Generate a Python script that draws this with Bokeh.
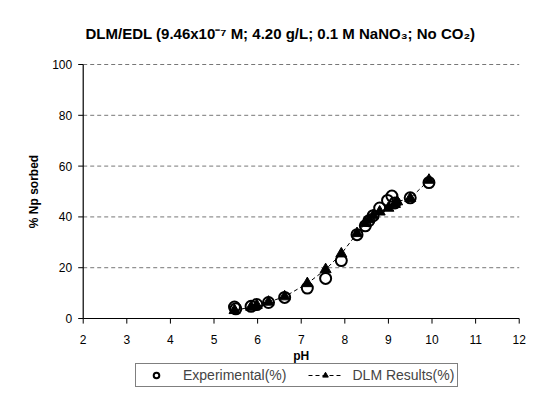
import math
from bokeh.plotting import figure
from bokeh.models import Legend, LegendItem, Range1d
from bokeh.embed import file_html
from bokeh.resources import INLINE

# Experimental (%)
exp_ph = [5.47, 5.50, 5.85, 5.98, 6.25, 6.62, 7.14, 7.56, 7.92, 8.28, 8.47, 8.55, 8.65, 8.80, 8.98, 9.08, 9.15, 9.50, 9.93]
exp_pct = [4.5, 3.8, 4.8, 5.5, 6.3, 8.3, 12.0, 15.8, 22.8, 33.0, 36.5, 38.5, 40.5, 43.5, 46.5, 48.2, 45.5, 47.5, 53.5]

# DLM Results (%)
dlm_ph = [5.47, 5.85, 5.98, 6.25, 6.62, 7.14, 7.56, 7.92, 8.28, 8.47, 8.55, 8.65, 8.80, 9.00, 9.15, 9.20, 9.50, 9.93]
dlm_pct = [3.2, 4.5, 5.2, 6.5, 8.6, 13.8, 19.3, 25.5, 33.5, 37.5, 39.0, 40.5, 42.0, 43.5, 45.0, 46.0, 47.3, 54.5]

x_ticks = [2, 3, 4, 5, 6, 7, 8, 9, 10, 11, 12]
x_tick_labels = [str(t) for t in x_ticks]
y_ticks = [0, 20, 40, 60, 80, 100]
y_tick_labels = [str(t) for t in y_ticks]

FONT = "Liberation Sans"
X_MIN, X_MAX = x_ticks[0], x_ticks[-1]
Y_MIN, Y_MAX = y_ticks[0], y_ticks[-1]
# visible window is wider / taller than the axes so that axis texts and the legend fit inside it
X_VIEW = (0.103, 12.19)
Y_VIEW = (-27.55, 103.15)
X_TICK_LEN = 2.0     # x tick length in y data units (~5 px)
Y_TICK_LEN = 0.115   # y tick length in x data units (~5 px)

p = figure(width=527, height=388, output_backend="svg", toolbar_location=None,
           x_range=Range1d(*X_VIEW), y_range=Range1d(*Y_VIEW),
           x_axis_location=None, y_axis_location=None,
           min_border_left=0, min_border_right=0, min_border_top=56, min_border_bottom=0)

p.title.text = "DLM/EDL (9.46x10\u207b\u2077 M; 4.20 g/L; 0.1 M NaNO\u2083; No CO\u2082)"
p.title.text_font = FONT
p.title.text_font_size = "15px"
p.title.text_font_style = "bold"
p.title.align = "left"
p.title.offset = 85
p.title.standoff = 29
p.title.text_color = "black"

p.outline_line_color = None
p.background_fill_color = "white"
p.border_fill_color = "white"
p.xgrid.grid_line_color = None
p.ygrid.grid_line_color = None

# horizontal dashed grid lines between the axis limits
gy = y_ticks[1:]
p.segment(x0=[X_MIN] * len(gy), y0=gy, x1=[X_MAX] * len(gy), y1=gy,
          line_color="#777777", line_dash="4 3", line_width=1)

# y axis drawn on the data scale
m = len(y_ticks)
p.segment(x0=[X_MIN], y0=[Y_MIN], x1=[X_MIN], y1=[Y_MAX], line_color="black", line_width=1.2)
p.segment(x0=[X_MIN] * m, y0=y_ticks, x1=[X_MIN - Y_TICK_LEN] * m, y1=y_ticks, line_color="black", line_width=1)
p.text(x=[X_MIN] * m, y=y_ticks, text=y_tick_labels, text_align="right", text_baseline="middle",
       x_offset=-11, text_font_size="12px", text_color="black", text_font={"value": FONT})
p.text(x=[X_MIN], y=[(Y_MIN + Y_MAX) / 2], text=["% Np sorbed"], angle=math.pi / 2,
       text_align="center", text_baseline="middle", x_offset=-49,
       text_font_size="12px", text_font_style="bold", text_color="black", text_font={"value": FONT})

# x axis drawn on the data scale
n = len(x_ticks)
p.segment(x0=[X_MIN], y0=[Y_MIN], x1=[X_MAX], y1=[Y_MIN], line_color="black", line_width=1.2)
p.segment(x0=x_ticks, y0=[Y_MIN] * n, x1=x_ticks, y1=[Y_MIN - X_TICK_LEN] * n, line_color="black", line_width=1)
p.text(x=x_ticks, y=[Y_MIN] * n, text=x_tick_labels, text_align="center", text_baseline="middle",
       y_offset=21, text_font_size="12px", text_color="black", text_font={"value": FONT})
p.text(x=[(X_MIN + X_MAX) / 2], y=[Y_MIN], text=["pH"], text_align="center", text_baseline="middle",
       y_offset=37, text_font_size="12px", text_font_style="bold", text_color="black", text_font={"value": FONT})

dlm_line = p.line(dlm_ph, dlm_pct, line_color="black", line_dash="4 3", line_width=1)
dlm_tri = p.scatter(dlm_ph, dlm_pct, marker="triangle", size=11, fill_color="black", line_color="black")
exp_c = p.scatter(exp_ph, exp_pct, marker="circle", size=11, fill_color=None, line_color="black", line_width=2)

legend = Legend(items=[LegendItem(label="Experimental(%)", renderers=[exp_c]),
                       LegendItem(label="DLM Results(%)", renderers=[dlm_line, dlm_tri])],
                orientation="horizontal", location=(135, 1),
                label_text_font=FONT, label_text_font_size="14px",
                border_line_color="black", border_line_width=1,
                background_fill_color="white", background_fill_alpha=1,
                padding=3, spacing=22, margin=0, glyph_width=34, glyph_height=14,
                label_height=14, label_standoff=10)
p.add_layout(legend, "center")

open("out.html", "w").write(file_html(p, INLINE))
